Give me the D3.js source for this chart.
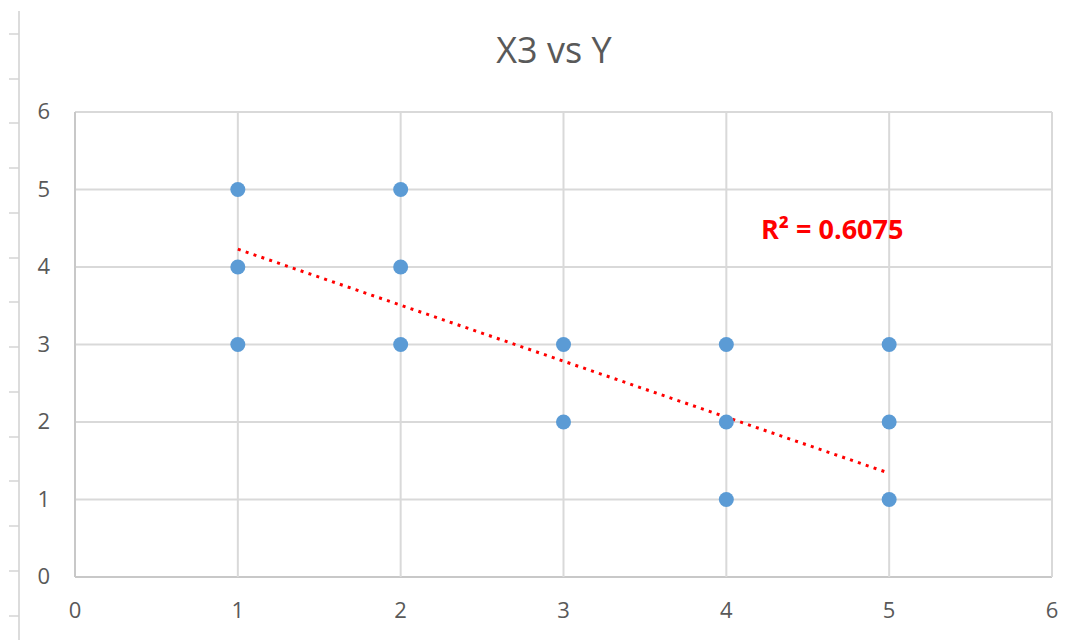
<!DOCTYPE html>
<html>
<head>
<meta charset="utf-8">
<script src="https://cdn.jsdelivr.net/npm/d3@7"></script>
<style>
  html, body { margin: 0; padding: 0; background: #fff; }
  svg { display: block; }
</style>
</head>
<body>
<svg id="chart" width="1086" height="640"></svg>
<script>
// ---- data ----
const title = "X3 vs Y";
const xValues = [1, 1, 1, 2, 2, 2, 3, 3, 4, 4, 4, 5, 5, 5];
const yValues = [5, 4, 3, 5, 4, 3, 3, 2, 3, 2, 1, 3, 2, 1];
const xTicks = [0, 1, 2, 3, 4, 5, 6];
const yTicks = [0, 1, 2, 3, 4, 5, 6];
const trendX = [1, 5];
const trendY = [4.23, 1.34];
const r2Label = "R² = 0.6075";
const sheetRows = [34, 79, 123, 168, 213, 258, 302, 347, 392, 437, 481, 526, 571, 616];

(function () {
// ---- layout ----
const svg = d3.select("#chart");
const pLeft = 75, pRight = 1052, pTop = 112, pBottom = 577;
const x = d3.scaleLinear().domain([0, 6]).range([pLeft, pRight]);
const y = d3.scaleLinear().domain([0, 6]).range([pBottom, pTop]);
const font = "'Open Sans', 'Noto Sans', sans-serif";
const grey = "#595959";

// spreadsheet border at left
svg.append("line").attr("x1", 19).attr("x2", 19).attr("y1", 11).attr("y2", 640)
  .attr("stroke", "#dcdcdc").attr("stroke-width", 2);
svg.selectAll("line.row").data(sheetRows).enter().append("line")
  .attr("class", "row")
  .attr("x1", 9).attr("x2", 19).attr("y1", d => d).attr("y2", d => d)
  .attr("stroke", "#d4d4d4").attr("stroke-width", 1.5);

// gridlines
svg.append("g").selectAll("line").data(yTicks).enter().append("line")
  .attr("x1", pLeft).attr("x2", pRight).attr("y1", d => y(d)).attr("y2", d => y(d))
  .attr("stroke", d => d === 0 ? "#c8c8c8" : "#d9d9d9").attr("stroke-width", 2);
svg.append("g").selectAll("line").data(xTicks).enter().append("line")
  .attr("y1", pTop).attr("y2", pBottom).attr("x1", d => x(d)).attr("x2", d => x(d))
  .attr("stroke", d => d === 0 ? "#c8c8c8" : "#d9d9d9").attr("stroke-width", 2);

// axis labels
svg.append("g").selectAll("text").data(yTicks).enter().append("text")
  .attr("x", pLeft - 25).attr("y", d => y(d) + 7)
  .attr("text-anchor", "end").attr("font-family", font).attr("font-size", 22)
  .attr("fill", grey).text(d => d);
svg.append("g").selectAll("text").data(xTicks).enter().append("text")
  .attr("x", d => x(d)).attr("y", 618)
  .attr("text-anchor", "middle").attr("font-family", font).attr("font-size", 22)
  .attr("fill", grey).text(d => d);

// title
svg.append("text").attr("x", 554).attr("y", 63).attr("text-anchor", "middle")
  .attr("font-family", font).attr("font-size", 36).attr("fill", grey).text(title);

// trendline
const trend = trendX.map((v, i) => [v, trendY[i]]);
svg.append("path").datum(trend)
  .attr("d", d3.line().x(d => x(d[0])).y(d => y(d[1])))
  .attr("fill", "none").attr("stroke", "#ff0000").attr("stroke-width", 3)
  .attr("stroke-dasharray", "3,5.3");

// points
const pts = xValues.map((v, i) => [v, yValues[i]]);
svg.append("g").selectAll("circle").data(pts).enter().append("circle")
  .attr("cx", d => x(d[0])).attr("cy", d => y(d[1])).attr("r", 7.5)
  .attr("fill", "#5b9bd5");

// R² label
svg.append("text").attr("x", 761).attr("y", 239)
  .attr("font-family", font).attr("font-size", 27).attr("font-weight", "bold")
  .attr("fill", "#ff0000").text(r2Label);
})();
</script>
</body>
</html>
